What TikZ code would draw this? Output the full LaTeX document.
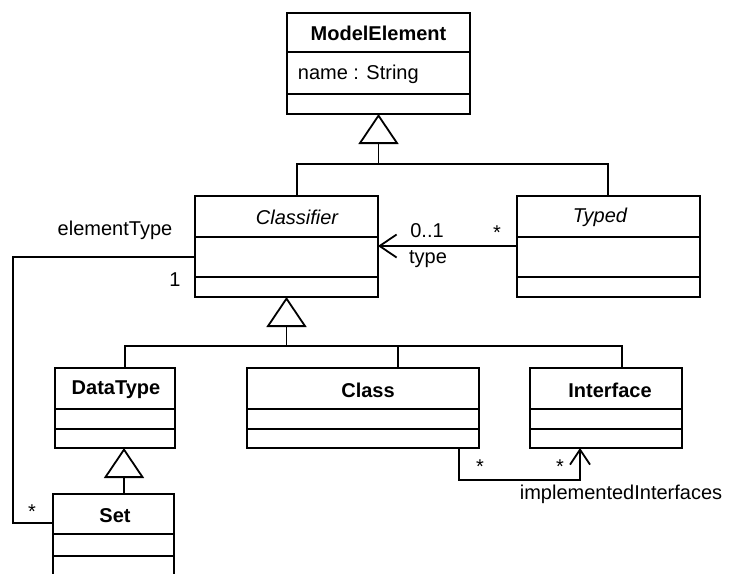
\documentclass[tikz,border=0pt]{standalone}
\usepackage{fontspec}
\setmainfont{Liberation Sans}
\usetikzlibrary{arrows.meta}
\newcommand\umlbox[7]{%
  \node[box, minimum width={#4-#2}, minimum height={#5-#3}] (#1) at ({(#2+#4)/2},{(#3+#5)/2}) {};
  \draw (#1.north west) ++(0,{#6-#3}) -- ++({#4-#2},0);
  \draw (#1.north west) ++(0,{#7-#3}) -- ++({#4-#2},0);
}
\begin{document}
\begin{tikzpicture}[x=1pt,y=-1pt,line width=1.8pt,
  box/.style={draw, rectangle, inner sep=0pt, outer sep=0pt, line width=1.8pt},
  lbl/.style={font=\fontsize{20}{24}\selectfont, inner sep=0pt},
  title/.style={lbl, font=\fontsize{20}{24}\selectfont\bfseries},
  abstr/.style={lbl, font=\fontsize{20}{24}\selectfont\itshape},
  gen/.style={-{Triangle[open,length=30pt,width=40pt]}},
  assoc/.style={-{Straight Barb[length=17pt,width=23pt]}},
  assocb/.style={-{Straight Barb[length=15pt,width=20pt]}}]
\useasboundingbox (0,0) rectangle (730,573);
\clip (0,0) rectangle (730,573);
\fill[white] (0,0) rectangle (730,573);

% class boxes
\umlbox{me}{287}{13}{470}{114}{52}{94}
\umlbox{classifier}{195}{196}{378}{297}{237}{277}
\umlbox{typed}{517}{196}{700}{297}{237}{277}
\umlbox{datatype}{55}{368}{175}{448}{409}{429}
\umlbox{class}{247}{368}{479}{448}{409}{429}
\umlbox{interface}{530}{368}{682}{448}{409}{429}
\umlbox{set}{53}{494}{174}{585}{534}{556}

% class texts
\node[title] (tme) at (378.5,33) {ModelElement};
\node[lbl, anchor=west] (tname) at (297,74) {name : String};
\node[abstr] (tclassifier) at (297,217) {Classifier};
\node[abstr] (ttyped) at (600,217) {Typed};
\node[title] (tdatatype) at (116,390) {DataType};
\node[title] (tclass) at (368,390) {Class};
\node[title] (tinterface) at (610,390) {Interface};
\node[title] (tset) at (115,516) {Set};

% generalization to ModelElement
\coordinate (cjl) at (297,164);
\coordinate (cjm) at (378.5,164);
\coordinate (cjr) at (608,164);
\draw (classifier.north -| cjl) -- (cjl) -- (cjr) -- (typed.north -| cjr);
\draw[gen] (cjm) -- (me.south);

% generalization to Classifier
\coordinate (gjl) at (125,346);
\coordinate (gjm) at (286.5,346);
\coordinate (gjc) at (398,346);
\coordinate (gjr) at (622,346);
\draw (datatype.north -| gjl) -- (gjl) -- (gjr) -- (interface.north -| gjr);
\draw (gjc) -- (class.north -| gjc);
\draw[gen] (gjm) -- (classifier.south);

% generalization Set -> DataType
\coordinate (sj) at (124,494);
\draw[gen] (set.north -| sj) -- (sj |- datatype.south);

% association Typed -> Classifier
\coordinate (ay) at (450,246);
\draw[assoc] (typed.west |- ay) -- (classifier.east |- ay);
\node[lbl] (l01) at (427,231) {0..1};
\node[lbl] (ltype) at (428,259) {type};
\node[lbl] (lstar1) at (497,233) {*};

% association elementType
\coordinate (et) at (13,257);
\coordinate (eb) at (13,523);
\draw (classifier.west |- et) -- (et) -- (eb) -- (set.west |- eb);
\node[lbl] (lelem) at (115,230) {elementType};
\node[lbl] (lone) at (175,280) {1};
\node[lbl] (lstar2) at (32,512) {*};

% association Class -> Interface
\coordinate (ca) at (459,480);
\coordinate (cb) at (580,480);
\draw[assocb] (class.south -| ca) -- (ca) -- (cb) -- (interface.south -| cb);
\node[lbl] (lstar3) at (480,467) {*};
\node[lbl] (lstar4) at (560,467) {*};
\node[lbl] (limpl) at (621,494) {implementedInterfaces};
\end{tikzpicture}
\end{document}
